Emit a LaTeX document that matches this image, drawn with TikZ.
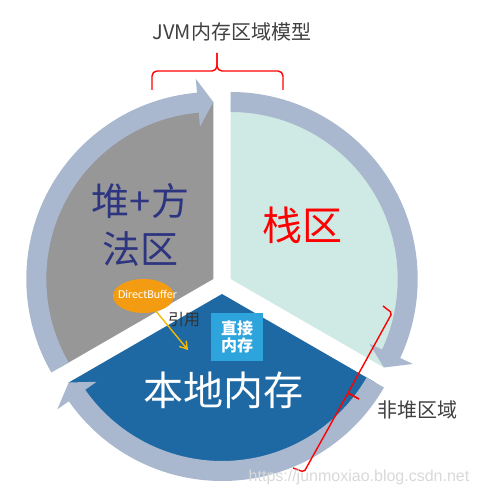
\documentclass[tikz,border=0pt]{standalone}
\usepackage{fontspec}
\newfontfamily\cjk{Noto Sans CJK SC}
\newfontfamily\calfont{Carlito}
\newfontfamily\wmfont{Liberation Sans}
\usetikzlibrary{arrows.meta,shapes.geometric}
\definecolor{bandc}{RGB}{169,184,207}
\definecolor{grayc}{RGB}{151,151,151}
\definecolor{cyanc}{RGB}{207,234,229}
\definecolor{bluec}{RGB}{30,105,163}
\definecolor{orangec}{RGB}{243,156,18}
\definecolor{boxc}{RGB}{46,164,221}
\definecolor{navyc}{RGB}{46,53,128}
\definecolor{arrowc}{RGB}{245,185,0}
\definecolor{textc}{RGB}{64,64,64}
\begin{document}
\begin{tikzpicture}[x=1pt,y=1pt,
  band/.style={fill=bandc},
  bracket/.style={draw=red, line width=1.4},
  bigcjk/.style={font=\cjk\fontsize{40}{40}\selectfont},
  midcjk/.style={font=\cjk\fontsize{20}{20}\selectfont, text=textc}]
\useasboundingbox (0,0) rectangle (479,497);
\fill[white] (0,0) rectangle (479,497);
% gray slice
\begin{scope}[shift={(213.3,218)}]
\fill[grayc] (0,0) -- (90:177) arc[start angle=90,end angle=210,radius=177] -- cycle;
\fill[band] (210:187) arc[start angle=210,end angle=95,radius=187] -- (95:201) -- (90:177) -- (95:153) -- (95:167) arc[start angle=95,end angle=210,radius=167] -- cycle;
\end{scope}
% cyan slice
\begin{scope}[shift={(230.7,218)}]
\fill[cyanc] (0,0) -- (-30:177) arc[start angle=-30,end angle=90,radius=177] -- cycle;
\fill[band] (90:187) arc[start angle=90,end angle=-25,radius=187] -- (-25:201) -- (-30:177) -- (-25:153) -- (-25:167) arc[start angle=-25,end angle=90,radius=167] -- cycle;
\end{scope}
% blue slice
\begin{scope}[shift={(222,203)}]
\fill[bluec] (0,0) -- (210:177) arc[start angle=210,end angle=330,radius=177] -- cycle;
\fill[band] (330:187) arc[start angle=330,end angle=215,radius=187] -- (215:201) -- (210:177) -- (215:153) -- (215:167) arc[start angle=215,end angle=330,radius=167] -- cycle;
\end{scope}
% texts
\node[midcjk] (title) at (232,465) {JVM内存区域模型};
\node[font=\cjk\fontsize{38}{48}\selectfont, text=navyc, align=center] (heap) at (140.5,272) {堆+方\\法区};
\node[bigcjk, text=red] (stack) at (302,272) {栈区};
\node[bigcjk, text=white] (native) at (223,107) {本地内存};
\node[midcjk] (nonheap) at (417,87) {非堆区域};
% DirectBuffer
\node[ellipse, fill=orangec, minimum width=61, minimum height=34, inner sep=0] (db) at (143.5,201) {};
\node[text=white, font=\calfont\fontsize{12}{12}\selectfont, inner sep=0] (dbt) at (147.5,203) {DirectBuffer};
\coordinate (arrEnd) at (188,147);
\draw[arrowc, line width=1.4, -{Straight Barb[length=7,width=9]}] (db) -- (arrEnd);
\node[font=\cjk\fontsize{16}{16}\selectfont, text=black!80] (ref) at (184,177) {引用};
\node[fill=boxc, minimum width=52, minimum height=48, text=white, font=\cjk\bfseries\fontsize{16}{17}\selectfont, align=center, inner sep=0] (direct) at (237,160) {直接\\内存};
% braces
\draw[bracket, rounded corners=5] (152,407) -- (152,426) -- (217,426) -- (217,444);
\draw[bracket, rounded corners=5] (283,407) -- (283,426) -- (217,426) -- (217,444);
\draw[bracket, rounded corners=2] (383,191) -- (392,184) -- (348,104) -- (359,98);
\draw[bracket, rounded corners=2] (293,29) -- (304,25) -- (348,104) -- (359,98);
% watermark
\node[font=\wmfont\fontsize{16}{16}\selectfont, text=black!15] (wm) at (359,20) {https://junmoxiao.blog.csdn.net};
\end{tikzpicture}
\end{document}
